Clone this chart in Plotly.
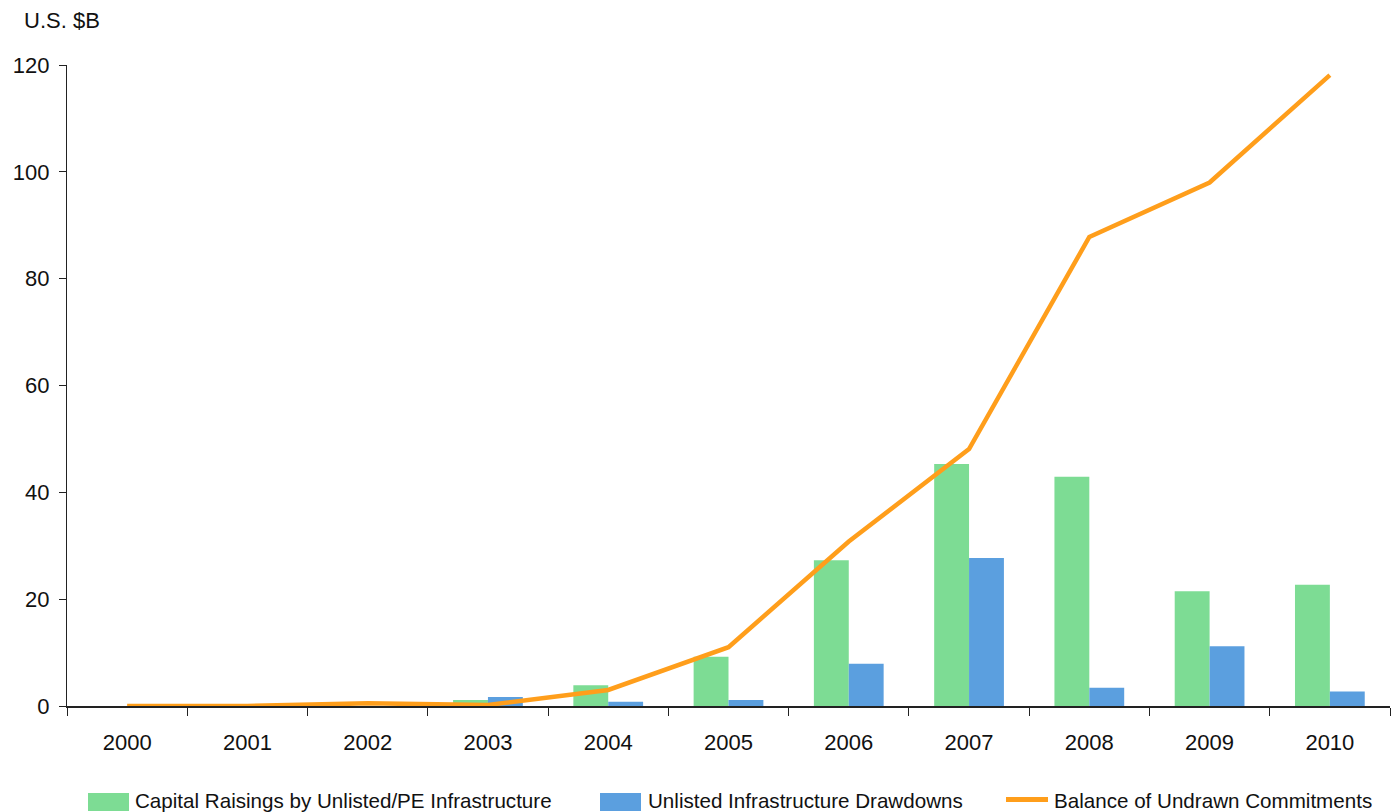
import plotly.graph_objects as go

years = ["2000", "2001", "2002", "2003", "2004", "2005",
         "2006", "2007", "2008", "2009", "2010"]
capital_raisings = [0, 0, 0, 1.1, 3.9, 9.2, 27.3, 45.3, 42.9, 21.5, 22.7]
drawdowns = [0, 0, 0, 1.7, 0.8, 1.1, 7.9, 27.7, 3.4, 11.2, 2.7]
undrawn_balance = [0, 0, 0.5, 0.2, 3.0, 11.0, 30.8, 48.1, 87.8, 98.0, 118.1]

GREEN = "#7DDC94"
BLUE = "#5B9FDF"
ORANGE = "#FF9E1B"
FONT = "Liberation Sans, Arial, sans-serif"

fig = go.Figure()
fig.add_trace(go.Bar(x=years, y=capital_raisings, marker_color=GREEN,
                     marker_line_width=0,
                     name="Capital Raisings by Unlisted/PE Infrastructure"))
fig.add_trace(go.Bar(x=years, y=drawdowns, marker_color=BLUE,
                     marker_line_width=0,
                     name="Unlisted Infrastructure Drawdowns"))
fig.add_trace(go.Scatter(x=years, y=undrawn_balance, mode="lines",
                         line=dict(color=ORANGE, width=4.5),
                         name="Balance of Undrawn Commitments"))

# plot area in pixels: x 67..1390, y 65..706
L, R, T, B = 67, 6, 65, 106
H = 812 - T - B
W = 1396 - L - R


def px_x(x):
    return (x - L) / W


def px_y(y):
    return (812 - B - y) / H


fig.update_layout(
    width=1396, height=812,
    margin=dict(l=L, r=R, t=T, b=B),
    paper_bgcolor="white", plot_bgcolor="white",
    barmode="group", bargap=0.42, bargroupgap=0,
    showlegend=False,
    font=dict(family=FONT, size=22, color="#111111"),
    xaxis=dict(
        type="category", showgrid=False, zeroline=False,
        showline=True, linecolor="#222222", linewidth=1.5,
        ticks="outside", tickson="boundaries", ticklen=8,
        tickcolor="#222222", tickwidth=1.2,
        tickfont=dict(size=22), ticklabelstandoff=16,
    ),
    yaxis=dict(
        range=[0, 120], tickvals=[0, 20, 40, 60, 80, 100, 120],
        showgrid=False, zeroline=False,
        showline=True, linecolor="#222222", linewidth=1.2,
        ticks="outside", ticklen=7, tickcolor="#222222", tickwidth=1.2,
        tickfont=dict(size=22), ticklabelstandoff=5,
    ),
)

fig.add_annotation(text="U.S. $B", xref="paper", yref="paper",
                   x=px_x(22), y=px_y(21), xanchor="left", yanchor="middle",
                   showarrow=False, font=dict(size=22))

# legend drawn beneath the axis
legend_items = [
    ("rect", GREEN, 88, 129, 133, "Capital Raisings by Unlisted/PE Infrastructure"),
    ("rect", BLUE, 600, 641, 646, "Unlisted Infrastructure Drawdowns"),
    ("line", ORANGE, 1006, 1048, 1052, "Balance of Undrawn Commitments"),
]
for kind, color, x0, x1, tx, label in legend_items:
    if kind == "rect":
        fig.add_shape(type="rect", xref="paper", yref="paper",
                      x0=px_x(x0), x1=px_x(x1), y0=px_y(811), y1=px_y(793),
                      fillcolor=color, line_width=0)
    else:
        fig.add_shape(type="line", xref="paper", yref="paper",
                      x0=px_x(x0), x1=px_x(x1), y0=px_y(799.5), y1=px_y(799.5),
                      line=dict(color=color, width=5))
    fig.add_annotation(text=label, xref="paper", yref="paper",
                       x=px_x(tx), y=px_y(800), xanchor="left",
                       yanchor="middle", showarrow=False,
                       font=dict(size=20.6))

fig.write_html("out.html")
